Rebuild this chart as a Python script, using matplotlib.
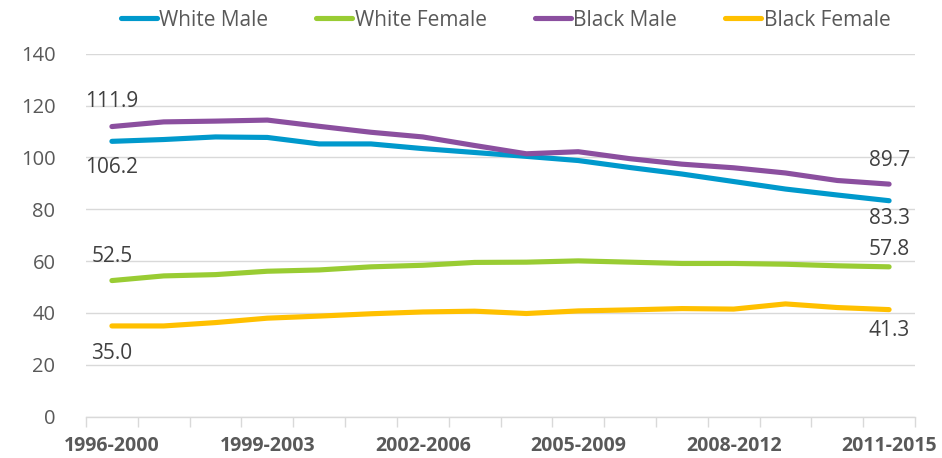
import matplotlib
matplotlib.use("Agg")
import matplotlib.pyplot as plt
import numpy as np

periods = ["1996-2000", "1997-2001", "1998-2002", "1999-2003", "2000-2004", "2001-2005",
           "2002-2006", "2003-2007", "2004-2008", "2005-2009", "2006-2010", "2007-2011",
           "2008-2012", "2009-2013", "2010-2014", "2011-2015"]
white_male = [106.2, 106.9, 107.9, 107.7, 105.2, 105.2, 103.4, 101.9,
              100.4, 98.8, 96.1, 93.6, 90.7, 87.8, 85.5, 83.3]
white_female = [52.5, 54.3, 54.8, 56.1, 56.6, 57.8, 58.4, 59.5,
                59.6, 60.1, 59.6, 59.1, 59.1, 58.8, 58.2, 57.8]
black_male = [111.9, 113.7, 114.0, 114.4, 112.0, 109.7, 107.9, 104.6,
              101.4, 102.2, 99.5, 97.4, 96.0, 94.0, 91.1, 89.7]
black_female = [35.0, 35.0, 36.3, 38.0, 38.8, 39.7, 40.4, 40.7,
                39.8, 40.8, 41.2, 41.7, 41.5, 43.5, 42.1, 41.3]
yticks = [0, 20, 40, 60, 80, 100, 120, 140]

plt.rcParams['font.family'] = ['Open Sans', 'DejaVu Sans']

fig = plt.figure(figsize=(9.42, 4.58), dpi=100)
ax = fig.add_axes([86/942, (458-416.7)/458, 829/942, 363/458])

x = np.arange(len(periods))
series = [
    ("White Male", white_male, "#0099CC"),
    ("White Female", white_female, "#99CC33"),
    ("Black Male", black_male, "#8B4F9F"),
    ("Black Female", black_female, "#FFC000"),
]
for name, vals, col in series:
    ax.plot(x, vals, color=col, lw=3.7, solid_capstyle='round', solid_joinstyle='round',
            label=name, zorder=3)

ax.set_xlim(-0.5, len(periods) - 0.5)
ax.set_ylim(0, 140)
ax.set_yticks(yticks)
ax.set_yticklabels([str(v) for v in yticks])
ax.grid(axis='y', color='#d9d9d9', lw=1.0)
ax.set_axisbelow(True)
for s in ['top', 'right', 'left']:
    ax.spines[s].set_visible(False)
ax.spines['bottom'].set_color('#d9d9d9')
ax.spines['bottom'].set_linewidth(1.0)
ax.tick_params(axis='y', length=0, pad=22, labelsize=14.5, labelcolor='#595959')

lab_idx = list(range(0, len(periods), 3))
ax.set_xticks(lab_idx)
ax.set_xticklabels([periods[i] for i in lab_idx], fontweight='bold')
ax.tick_params(axis='x', which='major', length=0, pad=14, labelsize=14, labelcolor='#595959')
ax.set_xticks(np.arange(-0.5, len(periods), 1.0), minor=True)
ax.tick_params(axis='x', which='minor', length=7, width=1.0, color='#d9d9d9')

# value labels
lab_col = '#404040'
def lab(i, vals, dy):
    ax.annotate(f"{vals[i]:.1f}", (x[i], vals[i]), xytext=(0, dy), textcoords='offset points',
                ha='center', va='center', fontsize=15, color=lab_col)

lab(0, black_male, 18)
lab(0, white_male, -19)
lab(0, white_female, 17)
lab(0, black_female, -20)
lab(15, black_male, 17)
lab(15, white_male, -13)
lab(15, white_female, 12.5)
lab(15, black_female, -15)

leg = ax.legend(loc='center', bbox_to_anchor=(505.5/942, 1 - 20/458), bbox_transform=fig.transFigure,
                ncol=4, frameon=False, fontsize=15, handlelength=1.73, handletextpad=0.12,
                columnspacing=2.3, labelcolor='#595959')
for h in leg.get_lines():
    h.set_linewidth(3.7)

fig.savefig("out.png", dpi=100)
